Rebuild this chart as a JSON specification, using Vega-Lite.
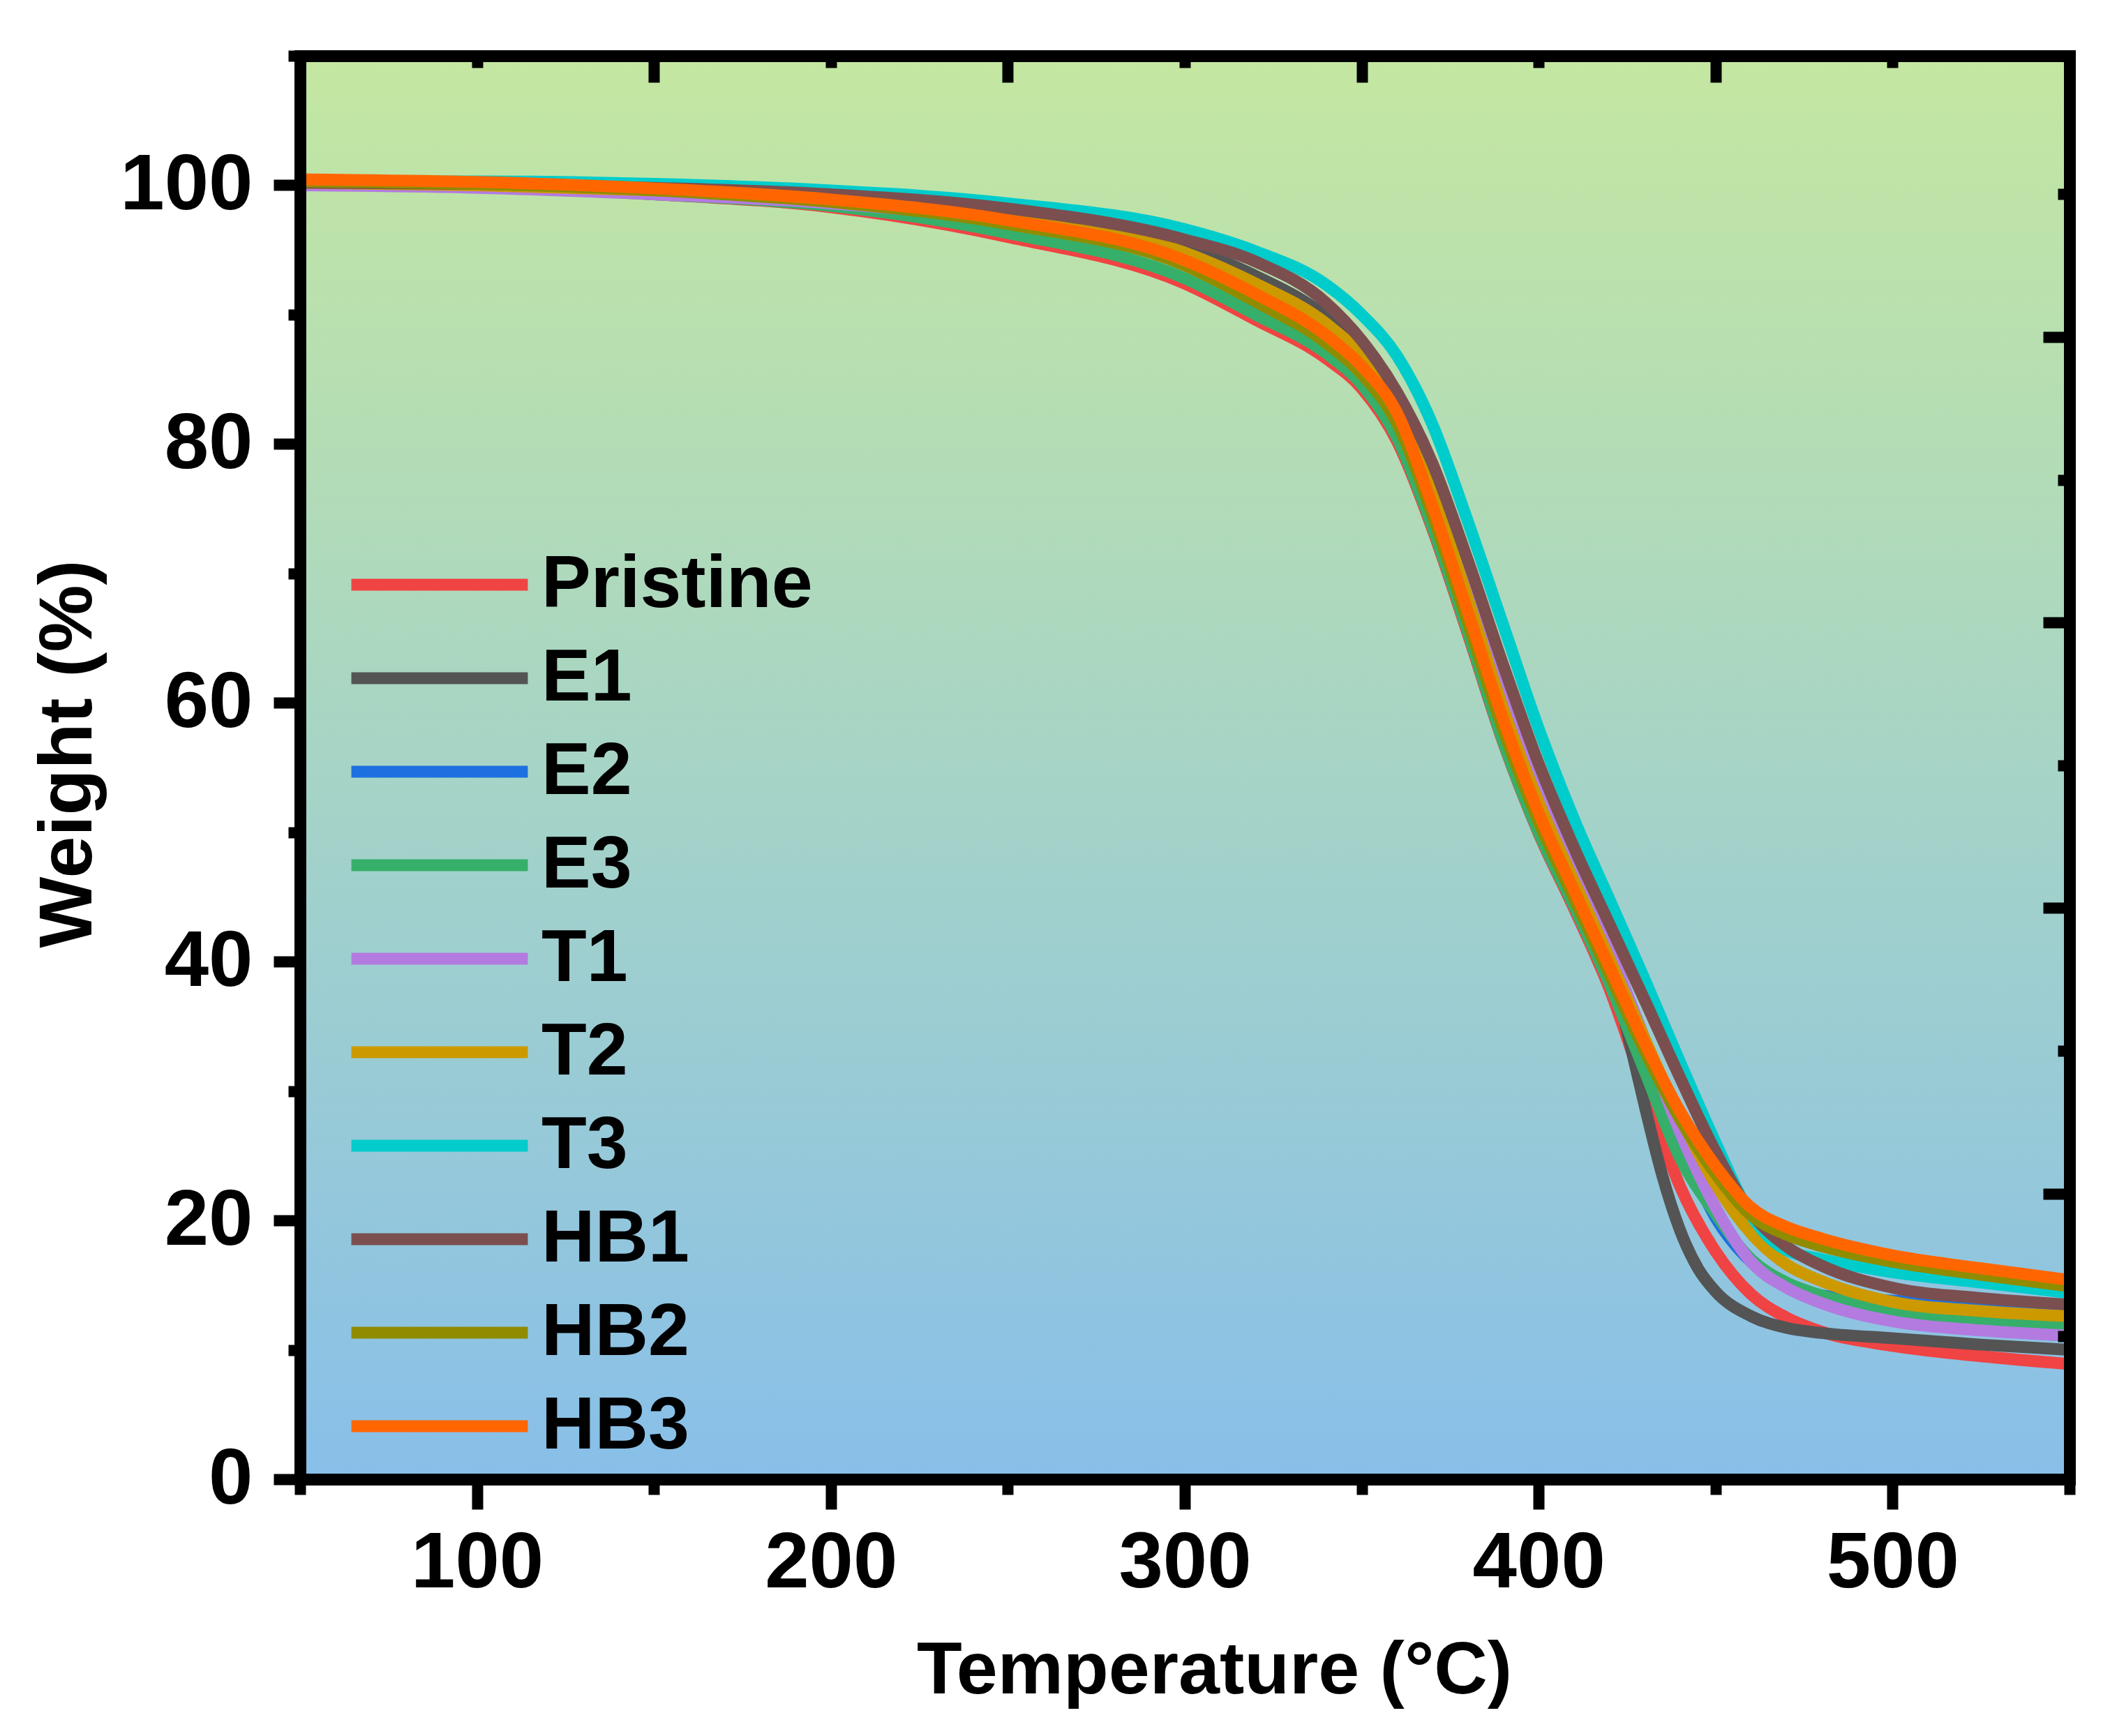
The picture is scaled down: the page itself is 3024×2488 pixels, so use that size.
{
  "$schema": "https://vega.github.io/schema/vega-lite/v6.json",
  "width": 2536,
  "height": 2040,
  "autosize": {"type": "none"},
  "padding": {"left": 430, "top": 80, "right": 58, "bottom": 368},
  "background": "white",
  "datasets": {
    "tga": [
      {"s": "Pristine", "t": 50, "w": 100.2}, {"s": "Pristine", "t": 100, "w": 99.9}, {"s": "Pristine", "t": 150, "w": 99.3}, {"s": "Pristine", "t": 200, "w": 98.3}, {"s": "Pristine", "t": 250, "w": 96.0}, {"s": "Pristine", "t": 300, "w": 92.4}, {"s": "Pristine", "t": 320, "w": 89.6}, {"s": "Pristine", "t": 340, "w": 86.6}, {"s": "Pristine", "t": 350, "w": 84.3}, {"s": "Pristine", "t": 360, "w": 80.2}, {"s": "Pristine", "t": 370, "w": 73.4}, {"s": "Pristine", "t": 380, "w": 65.3}, {"s": "Pristine", "t": 390, "w": 56.9}, {"s": "Pristine", "t": 400, "w": 49.9}, {"s": "Pristine", "t": 410, "w": 44.1}, {"s": "Pristine", "t": 420, "w": 37.9}, {"s": "Pristine", "t": 430, "w": 30.1}, {"s": "Pristine", "t": 440, "w": 22.6}, {"s": "Pristine", "t": 450, "w": 17.6}, {"s": "Pristine", "t": 460, "w": 14.3}, {"s": "Pristine", "t": 470, "w": 12.5}, {"s": "Pristine", "t": 480, "w": 11.4}, {"s": "Pristine", "t": 500, "w": 10.3}, {"s": "Pristine", "t": 525, "w": 9.5}, {"s": "Pristine", "t": 550, "w": 8.9},
      {"s": "E1", "t": 50, "w": 100.3}, {"s": "E1", "t": 100, "w": 100.1}, {"s": "E1", "t": 150, "w": 99.7}, {"s": "E1", "t": 200, "w": 99.0}, {"s": "E1", "t": 250, "w": 97.7}, {"s": "E1", "t": 300, "w": 95.2}, {"s": "E1", "t": 320, "w": 93.0}, {"s": "E1", "t": 340, "w": 89.8}, {"s": "E1", "t": 350, "w": 87.2}, {"s": "E1", "t": 360, "w": 83.3}, {"s": "E1", "t": 370, "w": 77.4}, {"s": "E1", "t": 380, "w": 69.5}, {"s": "E1", "t": 390, "w": 61.5}, {"s": "E1", "t": 400, "w": 54.5}, {"s": "E1", "t": 410, "w": 48.0}, {"s": "E1", "t": 415, "w": 44.5}, {"s": "E1", "t": 420, "w": 40.0}, {"s": "E1", "t": 425, "w": 34.6}, {"s": "E1", "t": 430, "w": 28.8}, {"s": "E1", "t": 435, "w": 23.4}, {"s": "E1", "t": 440, "w": 19.2}, {"s": "E1", "t": 445, "w": 16.3}, {"s": "E1", "t": 450, "w": 14.5}, {"s": "E1", "t": 460, "w": 12.6}, {"s": "E1", "t": 470, "w": 11.7}, {"s": "E1", "t": 480, "w": 11.3}, {"s": "E1", "t": 500, "w": 10.9}, {"s": "E1", "t": 525, "w": 10.4}, {"s": "E1", "t": 550, "w": 10.0},
      {"s": "E2", "t": 50, "w": 100.3}, {"s": "E2", "t": 100, "w": 100.1}, {"s": "E2", "t": 150, "w": 99.7}, {"s": "E2", "t": 200, "w": 98.9}, {"s": "E2", "t": 250, "w": 97.4}, {"s": "E2", "t": 300, "w": 94.5}, {"s": "E2", "t": 320, "w": 92.0}, {"s": "E2", "t": 340, "w": 88.8}, {"s": "E2", "t": 350, "w": 86.2}, {"s": "E2", "t": 360, "w": 82.0}, {"s": "E2", "t": 370, "w": 74.5}, {"s": "E2", "t": 380, "w": 66.2}, {"s": "E2", "t": 390, "w": 57.8}, {"s": "E2", "t": 400, "w": 50.8}, {"s": "E2", "t": 410, "w": 45.0}, {"s": "E2", "t": 420, "w": 39.0}, {"s": "E2", "t": 430, "w": 32.5}, {"s": "E2", "t": 440, "w": 26.0}, {"s": "E2", "t": 450, "w": 20.2}, {"s": "E2", "t": 460, "w": 16.8}, {"s": "E2", "t": 470, "w": 15.0}, {"s": "E2", "t": 480, "w": 14.2}, {"s": "E2", "t": 500, "w": 13.8}, {"s": "E2", "t": 525, "w": 13.4}, {"s": "E2", "t": 550, "w": 13.0},
      {"s": "E3", "t": 50, "w": 100.2}, {"s": "E3", "t": 100, "w": 99.9}, {"s": "E3", "t": 150, "w": 99.3}, {"s": "E3", "t": 200, "w": 98.4}, {"s": "E3", "t": 250, "w": 96.3}, {"s": "E3", "t": 300, "w": 92.8}, {"s": "E3", "t": 320, "w": 90.0}, {"s": "E3", "t": 340, "w": 87.0}, {"s": "E3", "t": 350, "w": 84.6}, {"s": "E3", "t": 360, "w": 80.5}, {"s": "E3", "t": 370, "w": 73.6}, {"s": "E3", "t": 380, "w": 65.5}, {"s": "E3", "t": 390, "w": 57.0}, {"s": "E3", "t": 400, "w": 50.0}, {"s": "E3", "t": 410, "w": 44.3}, {"s": "E3", "t": 420, "w": 38.3}, {"s": "E3", "t": 430, "w": 31.5}, {"s": "E3", "t": 440, "w": 24.8}, {"s": "E3", "t": 450, "w": 20.5}, {"s": "E3", "t": 460, "w": 17.0}, {"s": "E3", "t": 470, "w": 15.2}, {"s": "E3", "t": 480, "w": 14.2}, {"s": "E3", "t": 500, "w": 13.0}, {"s": "E3", "t": 525, "w": 12.3}, {"s": "E3", "t": 550, "w": 11.9},
      {"s": "T1", "t": 50, "w": 100.0}, {"s": "T1", "t": 100, "w": 99.8}, {"s": "T1", "t": 150, "w": 99.3}, {"s": "T1", "t": 200, "w": 98.6}, {"s": "T1", "t": 250, "w": 97.2}, {"s": "T1", "t": 300, "w": 94.4}, {"s": "T1", "t": 320, "w": 92.0}, {"s": "T1", "t": 340, "w": 88.9}, {"s": "T1", "t": 350, "w": 86.4}, {"s": "T1", "t": 360, "w": 82.7}, {"s": "T1", "t": 370, "w": 77.0}, {"s": "T1", "t": 380, "w": 69.3}, {"s": "T1", "t": 390, "w": 61.0}, {"s": "T1", "t": 400, "w": 53.6}, {"s": "T1", "t": 410, "w": 47.4}, {"s": "T1", "t": 420, "w": 41.0}, {"s": "T1", "t": 430, "w": 34.0}, {"s": "T1", "t": 440, "w": 26.8}, {"s": "T1", "t": 450, "w": 21.0}, {"s": "T1", "t": 460, "w": 16.8}, {"s": "T1", "t": 470, "w": 14.8}, {"s": "T1", "t": 480, "w": 13.6}, {"s": "T1", "t": 500, "w": 12.2}, {"s": "T1", "t": 525, "w": 11.5}, {"s": "T1", "t": 550, "w": 11.1},
      {"s": "T2", "t": 50, "w": 100.2}, {"s": "T2", "t": 100, "w": 100.0}, {"s": "T2", "t": 150, "w": 99.6}, {"s": "T2", "t": 200, "w": 99.0}, {"s": "T2", "t": 250, "w": 97.5}, {"s": "T2", "t": 300, "w": 94.8}, {"s": "T2", "t": 320, "w": 92.4}, {"s": "T2", "t": 340, "w": 89.3}, {"s": "T2", "t": 350, "w": 86.8}, {"s": "T2", "t": 360, "w": 83.0}, {"s": "T2", "t": 370, "w": 76.3}, {"s": "T2", "t": 380, "w": 68.0}, {"s": "T2", "t": 390, "w": 59.5}, {"s": "T2", "t": 400, "w": 52.3}, {"s": "T2", "t": 410, "w": 46.2}, {"s": "T2", "t": 420, "w": 40.2}, {"s": "T2", "t": 430, "w": 34.0}, {"s": "T2", "t": 440, "w": 28.0}, {"s": "T2", "t": 450, "w": 22.8}, {"s": "T2", "t": 460, "w": 19.0}, {"s": "T2", "t": 470, "w": 16.6}, {"s": "T2", "t": 480, "w": 15.3}, {"s": "T2", "t": 500, "w": 13.7}, {"s": "T2", "t": 525, "w": 13.0}, {"s": "T2", "t": 550, "w": 12.6},
      {"s": "T3", "t": 50, "w": 100.3}, {"s": "T3", "t": 100, "w": 100.3}, {"s": "T3", "t": 150, "w": 100.1}, {"s": "T3", "t": 200, "w": 99.6}, {"s": "T3", "t": 250, "w": 98.6}, {"s": "T3", "t": 300, "w": 96.6}, {"s": "T3", "t": 320, "w": 94.9}, {"s": "T3", "t": 340, "w": 92.3}, {"s": "T3", "t": 350, "w": 90.0}, {"s": "T3", "t": 360, "w": 86.8}, {"s": "T3", "t": 370, "w": 81.5}, {"s": "T3", "t": 380, "w": 74.0}, {"s": "T3", "t": 390, "w": 66.0}, {"s": "T3", "t": 400, "w": 58.0}, {"s": "T3", "t": 410, "w": 51.0}, {"s": "T3", "t": 420, "w": 44.8}, {"s": "T3", "t": 430, "w": 38.6}, {"s": "T3", "t": 440, "w": 32.2}, {"s": "T3", "t": 450, "w": 26.0}, {"s": "T3", "t": 460, "w": 20.4}, {"s": "T3", "t": 470, "w": 17.7}, {"s": "T3", "t": 480, "w": 17.0}, {"s": "T3", "t": 500, "w": 16.0}, {"s": "T3", "t": 525, "w": 15.2}, {"s": "T3", "t": 550, "w": 14.4},
      {"s": "HB1", "t": 50, "w": 100.2}, {"s": "HB1", "t": 100, "w": 100.1}, {"s": "HB1", "t": 150, "w": 99.8}, {"s": "HB1", "t": 200, "w": 99.3}, {"s": "HB1", "t": 250, "w": 98.2}, {"s": "HB1", "t": 300, "w": 95.8}, {"s": "HB1", "t": 320, "w": 94.1}, {"s": "HB1", "t": 340, "w": 90.9}, {"s": "HB1", "t": 350, "w": 88.0}, {"s": "HB1", "t": 360, "w": 84.0}, {"s": "HB1", "t": 370, "w": 78.5}, {"s": "HB1", "t": 380, "w": 71.0}, {"s": "HB1", "t": 390, "w": 62.9}, {"s": "HB1", "t": 400, "w": 55.3}, {"s": "HB1", "t": 410, "w": 48.8}, {"s": "HB1", "t": 420, "w": 42.9}, {"s": "HB1", "t": 430, "w": 37.0}, {"s": "HB1", "t": 440, "w": 31.0}, {"s": "HB1", "t": 450, "w": 25.3}, {"s": "HB1", "t": 460, "w": 20.6}, {"s": "HB1", "t": 470, "w": 18.0}, {"s": "HB1", "t": 480, "w": 16.5}, {"s": "HB1", "t": 500, "w": 14.8}, {"s": "HB1", "t": 525, "w": 14.0}, {"s": "HB1", "t": 550, "w": 13.5},
      {"s": "HB2", "t": 50, "w": 100.3}, {"s": "HB2", "t": 100, "w": 100.1}, {"s": "HB2", "t": 150, "w": 99.6}, {"s": "HB2", "t": 200, "w": 98.7}, {"s": "HB2", "t": 250, "w": 97.0}, {"s": "HB2", "t": 300, "w": 93.8}, {"s": "HB2", "t": 320, "w": 91.0}, {"s": "HB2", "t": 340, "w": 87.8}, {"s": "HB2", "t": 350, "w": 85.4}, {"s": "HB2", "t": 360, "w": 81.6}, {"s": "HB2", "t": 370, "w": 74.5}, {"s": "HB2", "t": 380, "w": 66.2}, {"s": "HB2", "t": 390, "w": 57.9}, {"s": "HB2", "t": 400, "w": 50.8}, {"s": "HB2", "t": 410, "w": 44.9}, {"s": "HB2", "t": 420, "w": 39.0}, {"s": "HB2", "t": 430, "w": 33.1}, {"s": "HB2", "t": 440, "w": 27.8}, {"s": "HB2", "t": 450, "w": 23.6}, {"s": "HB2", "t": 460, "w": 20.4}, {"s": "HB2", "t": 470, "w": 18.9}, {"s": "HB2", "t": 480, "w": 18.0}, {"s": "HB2", "t": 500, "w": 16.8}, {"s": "HB2", "t": 525, "w": 15.8}, {"s": "HB2", "t": 550, "w": 14.9},
      {"s": "HB3", "t": 50, "w": 100.45}, {"s": "HB3", "t": 100, "w": 100.25}, {"s": "HB3", "t": 150, "w": 99.75}, {"s": "HB3", "t": 200, "w": 98.9}, {"s": "HB3", "t": 250, "w": 97.3}, {"s": "HB3", "t": 300, "w": 94.2}, {"s": "HB3", "t": 320, "w": 91.6}, {"s": "HB3", "t": 340, "w": 88.4}, {"s": "HB3", "t": 350, "w": 86.0}, {"s": "HB3", "t": 360, "w": 82.4}, {"s": "HB3", "t": 370, "w": 75.2}, {"s": "HB3", "t": 380, "w": 67.0}, {"s": "HB3", "t": 390, "w": 58.7}, {"s": "HB3", "t": 400, "w": 51.5}, {"s": "HB3", "t": 410, "w": 45.5}, {"s": "HB3", "t": 420, "w": 39.6}, {"s": "HB3", "t": 430, "w": 33.7}, {"s": "HB3", "t": 440, "w": 28.4}, {"s": "HB3", "t": 450, "w": 24.2}, {"s": "HB3", "t": 460, "w": 21.0}, {"s": "HB3", "t": 470, "w": 19.5}, {"s": "HB3", "t": 480, "w": 18.6}, {"s": "HB3", "t": 500, "w": 17.3}, {"s": "HB3", "t": 525, "w": 16.3}, {"s": "HB3", "t": 550, "w": 15.4}
    ]
  },
  "layer": [
    {
      "data": {"values": [{}]},
      "mark": {
        "type": "rect",
        "color": {
          "gradient": "linear", "x1": 0, "y1": 0, "x2": 0, "y2": 1,
          "stops": [
            {"offset": 0, "color": "#C4E7A1"},
            {"offset": 0.5, "color": "#A6D4C6"},
            {"offset": 1, "color": "#88BFE9"}
          ]
        }
      },
      "encoding": {
        "x": {"datum": 50, "type": "quantitative", "scale": {"domain": [50, 550], "nice": false, "zero": false},
              "axis": {"orient": "bottom", "values": [50, 150, 250, 350, 450, 550], "tickSize": 22, "labels": false, "domain": false, "title": null, "zindex": 2}},
        "x2": {"datum": 550},
        "y": {"datum": 0, "type": "quantitative", "scale": {"domain": [0, 110], "nice": false, "zero": false},
              "axis": {"orient": "left", "values": [10, 30, 50, 70, 90, 110], "tickSize": 17, "labels": false, "domain": false, "title": null, "zindex": 2}},
        "y2": {"datum": 110}
      }
    },
    {
      "data": {"name": "tga"},
      "mark": {"type": "line", "strokeWidth": 17, "interpolate": "monotone"},
      "encoding": {
        "x": {"field": "t", "type": "quantitative", "scale": {"domain": [50, 550], "nice": false, "zero": false},
              "axis": {"orient": "bottom", "values": [100, 200, 300, 400, 500], "tickSize": 43, "labelPadding": 21, "labelFontSize": 114, "labelLimit": 1000,
                       "title": "Temperature (°C)", "titleFontSize": 106, "titlePadding": 45, "titleX": 1310, "zindex": 2}},
        "y": {"field": "w", "type": "quantitative", "scale": {"domain": [0, 110], "nice": false, "zero": false},
              "axis": {"orient": "left", "values": [0, 20, 40, 60, 80, 100], "tickSize": 38, "labelPadding": 30, "labelFontSize": 114, "labelLimit": 1000,
                       "title": "Weight (%)", "titleFontSize": 108, "titlePadding": 77, "titleY": 1000, "zindex": 2}},
        "color": {
          "field": "s", "type": "nominal",
          "scale": {
            "domain": ["Pristine", "E1", "E2", "E3", "T1", "T2", "T3", "HB1", "HB2", "HB3"],
            "range": ["#F04343", "#545454", "#1E70E0", "#36AF6A", "#B37BE0", "#CC9900", "#00CCCC", "#7B4F4F", "#8F8C00", "#FF6600"]
          },
          "legend": {
            "orient": "none", "legendX": 147, "legendY": 705, "title": null, "padding": 0,
            "symbolType": "M-7.5,0H7.5", "symbolSize": 1137, "symbolStrokeWidth": 17, "symbolFillColor": "transparent",
            "labelFontSize": 106, "labelFont": "Liberation Sans", "labelFontWeight": "bold", "labelColor": "black", "labelLimit": 1000,
            "labelOffset": 93, "rowPadding": 28, "labelBaseline": "middle"
          }
        }
      }
    },
    {
      "data": {"values": [{}]},
      "mark": {"type": "point", "opacity": 0},
      "encoding": {
        "x": {"datum": 50, "type": "quantitative", "scale": {"domain": [50, 550], "nice": false, "zero": false},
              "axis": {"orient": "top", "values": [150, 250, 350, 450], "offset": -38, "tickSize": 38, "labels": false, "domain": false, "title": null, "zindex": 2}},
        "y": {"datum": 0, "type": "quantitative", "scale": {"domain": [0, 110], "nice": false, "zero": false},
              "axis": {"orient": "right", "values": [22.07, 44.14, 66.2, 88.27], "offset": -38, "tickSize": 38, "labels": false, "domain": false, "title": null, "zindex": 2}}
      }
    },
    {
      "data": {"values": [{}]},
      "mark": {"type": "point", "opacity": 0},
      "encoding": {
        "x": {"datum": 50, "type": "quantitative", "scale": {"domain": [50, 550], "nice": false, "zero": false},
              "axis": {"orient": "top", "values": [100, 200, 300, 400, 500], "offset": -17, "tickSize": 17, "labels": false, "domain": false, "title": null, "zindex": 2}},
        "y": {"datum": 0, "type": "quantitative", "scale": {"domain": [0, 110], "nice": false, "zero": false},
              "axis": {"orient": "right", "values": [11.03, 33.1, 55.17, 77.24, 99.3], "offset": -17, "tickSize": 17, "labels": false, "domain": false, "title": null, "zindex": 2}}
      }
    },
    {
      "data": {"values": [{}]},
      "mark": {"type": "point", "opacity": 0},
      "encoding": {
        "x": {"datum": 50, "type": "quantitative", "scale": {"domain": [50, 550], "nice": false, "zero": false},
              "axis": {"orient": "top", "ticks": false, "labels": false, "domain": true, "title": null, "zindex": 2}},
        "y": {"datum": 0, "type": "quantitative", "scale": {"domain": [0, 110], "nice": false, "zero": false},
              "axis": {"orient": "right", "ticks": false, "labels": false, "domain": true, "title": null, "zindex": 2}}
      }
    }
  ],
  "resolve": {"axis": {"x": "independent", "y": "independent"}},
  "config": {
    "font": "Liberation Sans",
    "view": {"stroke": null},
    "axis": {
      "grid": false,
      "labelFont": "Liberation Sans", "labelFontWeight": "bold", "labelColor": "black",
      "titleFont": "Liberation Sans", "titleFontWeight": "bold", "titleColor": "black",
      "domainColor": "black", "domainWidth": 17, "domainCap": "square",
      "tickColor": "black", "tickWidth": 16
    }
  }
}
